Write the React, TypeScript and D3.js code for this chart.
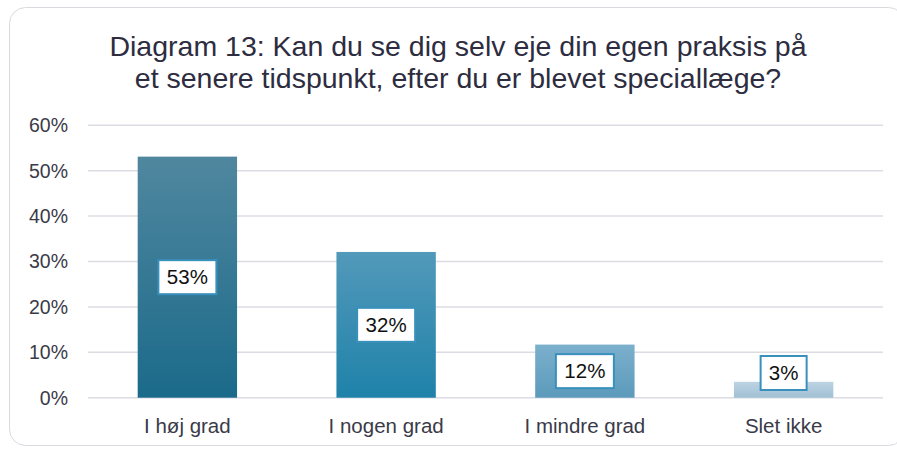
import React from 'react';
import { scaleBand, scaleLinear } from 'd3';

const WIDTH = 897;
const HEIGHT = 449;

const titleLines = [
  'Diagram 13: Kan du se dig selv eje din egen praksis på',
  'et senere tidspunkt, efter du er blevet speciallæge?'
];
const categories = ['I høj grad', 'I nogen grad', 'I mindre grad', 'Slet ikke'];
const values = [0.531, 0.321, 0.117, 0.035];
const valueLabels = ['53%', '32%', '12%', '3%'];
const ticks = [0, 0.1, 0.2, 0.3, 0.4, 0.5, 0.6];
const tickLabels = ['0%', '10%', '20%', '30%', '40%', '50%', '60%'];

const gradients = [
  ['#50879f', '#1b6a8a'],
  ['#5299ba', '#1f82a9'],
  ['#7bb0cc', '#5c9abb'],
  ['#bcd3e2', '#a1c0d4']
];

const FONT = '"Liberation Sans", Arial, sans-serif';

export default function App () {
  const left = 88;
  const right = 883;
  const top = 125.3;
  const bottom = 397.7;

  const x = scaleBand<string>()
    .domain(categories)
    .range([left, right])
    .paddingInner(0.5)
    .paddingOuter(0.25);
  const y = scaleLinear().domain([0, 0.6]).range([bottom, top]);

  return (
    <svg
      width={WIDTH}
      height={HEIGHT}
      style={{ position: 'absolute', left: 0, top: 0 }}
    >
      <defs>
        {gradients.map((g, i) => (
          <linearGradient key={i} id={`bar${i}`} x1='0' y1='0' x2='0' y2='1'>
            <stop offset='0%' stopColor={g[0]} />
            <stop offset='100%' stopColor={g[1]} />
          </linearGradient>
        ))}
      </defs>
      <rect x={0} y={0} width={WIDTH} height={HEIGHT} fill='#ffffff' />
      <rect
        x={9.5}
        y={7.5}
        width={895}
        height={438}
        rx={16}
        fill='#ffffff'
        stroke='#d9d9e0'
        strokeWidth={1}
      />

      {titleLines.map((t, i) => (
        <text
          key={i}
          x={458}
          y={56 + i * 32}
          textAnchor='middle'
          fontFamily={FONT}
          fontSize={28.5}
          fill='#2d2d3f'
        >
          {t}
        </text>
      ))}

      {ticks.map((t, i) => (
        <g key={i}>
          <line
            x1={left}
            x2={right}
            y1={y(t)}
            y2={y(t)}
            stroke='#dcdce4'
            strokeWidth={1.5}
          />
          <text
            x={68}
            y={y(t)}
            dy='0.35em'
            textAnchor='end'
            fontFamily={FONT}
            fontSize={19.5}
            fill='#3a3a48'
          >
            {tickLabels[i]}
          </text>
        </g>
      ))}

      {categories.map((c, i) => {
        const bx = x(c) as number;
        const bw = x.bandwidth();
        const by = y(values[i]);
        const cx = bx + bw / 2;
        const cy = Math.min((by + bottom) / 2, 373);
        const label = valueLabels[i];
        const boxW = label.length * 12 + 22;
        return (
          <g key={c}>
            <rect
              x={bx}
              y={by}
              width={bw}
              height={bottom - by}
              fill={`url(#bar${i})`}
            />
            <rect
              x={cx - boxW / 2}
              y={cy - 17}
              width={boxW}
              height={34}
              fill='#ffffff'
              stroke='#3a90bd'
              strokeWidth={2}
            />
            <text
              x={cx}
              y={cy}
              dy='0.35em'
              textAnchor='middle'
              fontFamily={FONT}
              fontSize={20.5}
              fill='#111111'
            >
              {label}
            </text>
            <text
              x={cx}
              y={433}
              textAnchor='middle'
              fontFamily={FONT}
              fontSize={20.5}
              fill='#3a3a48'
            >
              {c}
            </text>
          </g>
        );
      })}
    </svg>
  );
}
